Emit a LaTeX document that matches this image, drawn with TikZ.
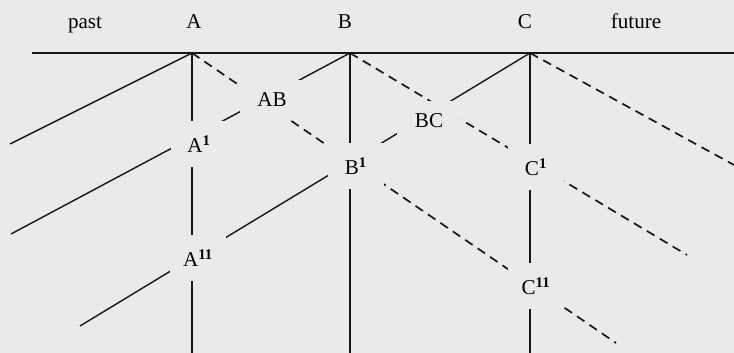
\documentclass[tikz,border=0pt]{standalone}
\usepackage{fontspec}
\setmainfont{Liberation Serif}
\usepackage{tikz}
\definecolor{PaperBg}{RGB}{234,234,234}
\definecolor{InkLine}{RGB}{22,22,22}
\newcommand{\figfont}{\fontsize{15}{18}\selectfont}
\pgfdeclarelayer{paper}
\pgfdeclarelayer{rays}
\pgfsetlayers{paper,rays,main}
\tikzset{
  nd_evt/.style={
    rectangle, fill=PaperBg, inner sep=0pt,
    minimum width=1.4cm, minimum height=1.15cm, font=\figfont},
  nd_mid/.style={
    rectangle, fill=PaperBg, inner sep=0pt,
    minimum width=1.6cm, minimum height=1.0cm, font=\figfont},
  nd_top/.style={anchor=base, inner sep=0pt, font=\figfont},
  ln_now/.style={draw=InkLine, line width=0.9pt},
  ln_world/.style={draw=InkLine, line width=1pt},
  ln_past/.style={draw=InkLine, line width=1pt},
  ln_fut/.style={draw=InkLine, line width=1.2pt, dash pattern=on 6.4pt off 4.3pt},
}

\begin{document}
\begin{tikzpicture}[x=0.025cm,y=-0.025cm]

\begin{pgfonlayer}{paper}
  \fill[PaperBg] (0,0) rectangle (734,353);
\end{pgfonlayer}
\useasboundingbox (0,0) rectangle (734,353);

%% world lines:  192 | 350 | 530
\def\xA{192}\def\xB{350}\def\xC{530}

%% top labels
\node[nd_top] at (85,29)  (past){past};
\node[nd_top] at (194,29) (lA){A};
\node[nd_top] at (345,29) (lB){B};
\node[nd_top] at (525,29) (lC){C};
\node[nd_top] at (636,29) (future){future};

%% events on the now line
\coordinate (A) at (\xA,53);
\coordinate (B) at (\xB,53);
\coordinate (C) at (\xC,53);

%% later events
\node[nd_evt] at (199,144) (A1){A\textsuperscript{\bfseries 1}};
\node[nd_evt] at (198,258) (A11){A\textsuperscript{\bfseries 11}};
\node[nd_evt] at (356,166) (B1){B\textsuperscript{\bfseries 1}};
\node[nd_evt] at (536,167) (C1){C\textsuperscript{\bfseries 1}};
\node[nd_evt] at (536,286) (C11){C\textsuperscript{\bfseries 11}};
\node[nd_mid] at (272,100) (AB){AB};
\node[nd_mid] at (429,121) (BC){BC};

%% free ends
\coordinate (nowL) at (32,53);  \coordinate (nowR) at (734,53);
\coordinate (wA) at (\xA,353);  \coordinate (wB) at (\xB,353);  \coordinate (wC) at (\xC,353);
\coordinate (pA) at (10,144);   \coordinate (pB) at (11,234);   \coordinate (pC) at (80,326);
\coordinate (fA) at (616,343);  \coordinate (fB) at (687,255);  \coordinate (fC) at (734,165);

%% lines
\begin{pgfonlayer}{rays}
  \draw[ln_now] (nowL)--(nowR);
  \foreach \n in {A,B,C}
    {\draw[ln_world] (\n)--(w\n);
     \draw[ln_past]  (\n)--(p\n);
     \draw[ln_fut]   (\n)--(f\n);}
\end{pgfonlayer}

\end{tikzpicture}
\end{document}
